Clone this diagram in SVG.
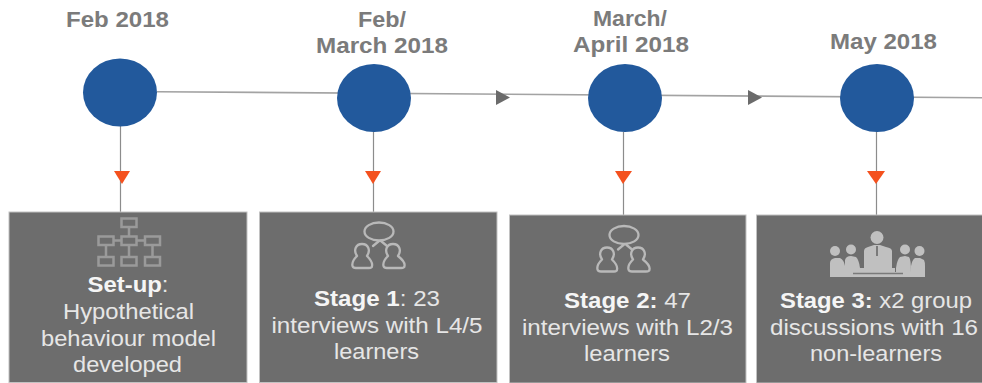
<svg xmlns="http://www.w3.org/2000/svg" width="982" height="383" viewBox="0 0 982 383">
<style>
text{font-family:"Liberation Sans",Arial,sans-serif;text-anchor:middle}
.d{font-size:22px;font-weight:700;fill:#7b7b7b}
.t{font-size:22px;fill:#e6e6e6}
.b{font-weight:700;fill:#f5f5f5}
.box{fill:#6d6d6d;stroke:#c2c2c2;stroke-width:1}
.dot{fill:#22599c}
.ln{stroke:#a3a3a3;stroke-width:1.600;fill:none}
.h{stroke:#8c8c8c;stroke-width:1.200;fill:none}
.tri{fill:#f4511e}
.ar{fill:#6b6b6b}
.org{fill:none;stroke:#9a9a9a;stroke-width:2.500}
.ppl{fill:none;stroke:#b9b9b9;stroke-width:2.300;stroke-linecap:round;stroke-linejoin:round}
.ib{fill:#c0c0c0}
</style>
<defs>
<g id="people">
<ellipse cx="379" cy="231.500" rx="14.500" ry="9"/>
<path d="M379 241L373 246M381 241L387 246"/>
<path d="M357 256C353 260 352 264 352.500 266Q353 268 356 268H369Q372 268 372 266C372.500 264 371 260 367 256C371 250 368 244 362 244C356 244 353 250 357 256Z"/>
<path d="M388 256C384 260 383 264 383.500 266Q384 268 387 268H401Q404.500 268 404.500 266C405 264 403 260 398 256C402 250 399 244 393 244C387 244 384 250 388 256Z"/>
</g>
</defs>
<g id="connectors">
<path class="ln" d="M157 91.700L982 97.700"/>
<path class="ar" d="M496 90L510 97.500L496 105Z"/>
<path class="ar" d="M748 90L762 97.500L748 105Z"/>
<path class="h" d="M120.500 126V212M373.500 132V212M623.500 132V215M876.500 132V215"/>
<path class="tri" d="M114 171H130L122 184Z"/>
<path class="tri" d="M365 171H381L373 184Z"/>
<path class="tri" d="M615 171H632L623 184Z"/>
<path class="tri" d="M867 171H885L876 184Z"/>
</g>
<g id="node-setup">
<text class="d" x="117.500" y="27" textLength="103" lengthAdjust="spacingAndGlyphs">Feb 2018</text>
<ellipse class="dot" cx="120" cy="92.500" rx="37" ry="34"/>
<rect class="box" x="9" y="212" width="238" height="170.500"/>
<g class="org">
<rect x="121.500" y="218.500" width="15" height="8.500"/><rect x="98.500" y="236.500" width="15" height="8.500"/><rect x="121.500" y="236.500" width="15" height="8.500"/><rect x="145" y="236.500" width="15" height="8.500"/><rect x="98.500" y="257" width="15" height="8.500"/><rect x="121.500" y="257" width="15" height="8.500"/><rect x="145" y="257" width="15" height="8.500"/>
<path d="M129 227V236.500M113.500 240.500H121.500M136.500 240.500H145M106 245V257M129 245V257M152.500 245V257"/>
</g>
<text class="t" x="128" y="292" textLength="81" lengthAdjust="spacingAndGlyphs"><tspan class="b">Set-up</tspan>:</text>
<text class="t" x="128.500" y="319" textLength="131" lengthAdjust="spacingAndGlyphs">Hypothetical</text>
<text class="t" x="128.500" y="346" textLength="175" lengthAdjust="spacingAndGlyphs">behaviour model</text>
<text class="t" x="127.500" y="372" textLength="109" lengthAdjust="spacingAndGlyphs">developed</text>
</g>
<g id="node-stage1">
<text class="d" x="382" y="27" textLength="48" lengthAdjust="spacingAndGlyphs">Feb/</text>
<text class="d" x="382" y="53" textLength="132" lengthAdjust="spacingAndGlyphs">March 2018</text>
<ellipse class="dot" cx="374" cy="98" rx="37" ry="34"/>
<rect class="box" x="259.500" y="212" width="237.500" height="170.500"/>
<use href="#people" class="ppl"/>
<text class="t" x="377" y="306" textLength="126" lengthAdjust="spacingAndGlyphs"><tspan class="b">Stage 1</tspan>: 23</text>
<text class="t" x="377" y="333" textLength="211" lengthAdjust="spacingAndGlyphs">interviews with L4/5</text>
<text class="t" x="376.500" y="359" textLength="85" lengthAdjust="spacingAndGlyphs">learners</text>
</g>
<g id="node-stage2">
<text class="d" x="630" y="26" textLength="74" lengthAdjust="spacingAndGlyphs">March/</text>
<text class="d" x="631" y="52" textLength="116" lengthAdjust="spacingAndGlyphs">April 2018</text>
<ellipse class="dot" cx="625" cy="98" rx="37" ry="34"/>
<rect class="box" x="509.500" y="215" width="236.500" height="168"/>
<use href="#people" class="ppl" x="245" y="3.500"/>
<text class="t" x="627.500" y="308" textLength="127" lengthAdjust="spacingAndGlyphs"><tspan class="b">Stage 2:</tspan> 47</text>
<text class="t" x="627.500" y="335" textLength="211" lengthAdjust="spacingAndGlyphs">interviews with L2/3</text>
<text class="t" x="627" y="361" textLength="86" lengthAdjust="spacingAndGlyphs">learners</text>
</g>
<g id="node-stage3">
<text class="d" x="883.500" y="48.500" textLength="107" lengthAdjust="spacingAndGlyphs">May 2018</text>
<ellipse class="dot" cx="877" cy="98" rx="37" ry="34"/>
<rect class="box" x="756.500" y="215" width="227" height="168"/>
<g class="ib">
<circle cx="877" cy="237.500" r="6.500"/>
<path d="M864 268V251Q864 248 868 247L874 245H880L886 247Q892 248 892 251V268Z"/>
<circle cx="835" cy="251" r="5"/><circle cx="851" cy="249.500" r="5"/><circle cx="905" cy="249.500" r="5"/><circle cx="919.500" cy="251" r="5"/>
<path d="M830 277V263Q830 259 835 258L840 258Q844 260 845 266V277Z"/>
<path d="M845 272V260Q846 256 851 256L856 257Q859 260 860 268V272Z"/>
<path d="M896 272V268Q897 260 900 257L905 256L909 257Q911 259 911 272Z"/>
<path d="M911 277V266Q912 260 915 258L920 258L924 260Q925 262 925 266V277Z"/>
<path d="M830 272H925V275Q925 277 923 277H832Q830 277 830 275Z"/>
<path d="M860 268H895V272H860Z"/>
</g>
<path d="M853 273.500H903" stroke="#7a7a7a" stroke-width="1.300"/>
<path d="M877 246V256" stroke="#7a7a7a" stroke-width="2"/>
<text class="t" x="876" y="308" textLength="192" lengthAdjust="spacingAndGlyphs"><tspan class="b">Stage 3:</tspan> x2 group</text>
<text class="t" x="874" y="335" textLength="208" lengthAdjust="spacingAndGlyphs">discussions with 16</text>
<text class="t" x="876" y="361" textLength="132" lengthAdjust="spacingAndGlyphs">non-learners</text>
</g>
</svg>
